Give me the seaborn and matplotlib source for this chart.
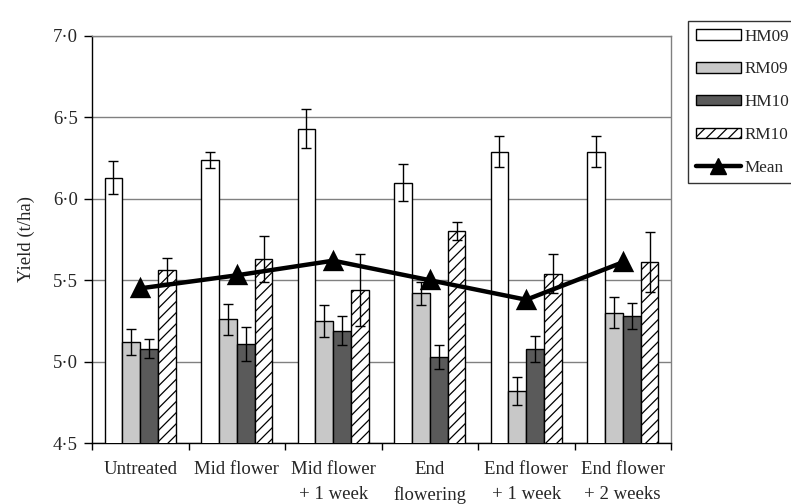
import matplotlib
matplotlib.use("Agg")
import matplotlib.pyplot as plt
import seaborn as sns
import pandas as pd
import numpy as np
from matplotlib.patches import Patch
from matplotlib.lines import Line2D
from matplotlib.ticker import FuncFormatter, FixedLocator

categories = ["Untreated", "Mid flower", "Mid flower\n+ 1 week", "End\nflowering",
              "End flower\n+ 1 week", "End flower\n+ 2 weeks"]
series = ["HM09", "RM09", "HM10", "RM10"]
hm09 = [6.13, 6.24, 6.43, 6.10, 6.29, 6.29]
rm09 = [5.12, 5.26, 5.25, 5.42, 4.82, 5.30]
hm10 = [5.08, 5.11, 5.19, 5.03, 5.08, 5.28]
rm10 = [5.56, 5.63, 5.44, 5.80, 5.54, 5.61]
hm09_err = [0.10, 0.05, 0.12, 0.115, 0.095, 0.095]
rm09_err = [0.08, 0.095, 0.10, 0.07, 0.085, 0.095]
hm10_err = [0.06, 0.105, 0.09, 0.075, 0.08, 0.08]
rm10_err = [0.075, 0.14, 0.22, 0.055, 0.12, 0.185]
mean = [5.45, 5.53, 5.62, 5.50, 5.38, 5.61]

vals = {"HM09": hm09, "RM09": rm09, "HM10": hm10, "RM10": rm10}
errs = {"HM09": hm09_err, "RM09": rm09_err, "HM10": hm10_err, "RM10": rm10_err}
rows = []
for s in series:
    for c, v, e in zip(categories, vals[s], errs[s]):
        rows.append({"cat": c, "series": s, "value": v, "err": e})
df = pd.DataFrame(rows)
mdf = pd.DataFrame({"cat": categories, "mean": mean})

colors = {"HM09": "#ffffff", "RM09": "#c8c8c8", "HM10": "#5a5a5a", "RM10": "#ffffff"}

sns.set_style("white")
plt.rcParams["font.family"] = ["Liberation Serif", "DejaVu Serif"]
plt.rcParams["hatch.linewidth"] = 0.9

FS = 13.5

fig = plt.figure(figsize=(7.91, 5.04), dpi=100)
ax = fig.add_axes([92/791, 1-443/504, (671-92)/791, (443-36)/504])

sns.barplot(data=df, x="cat", y="value", hue="series", order=categories,
            hue_order=series, palette=colors, edgecolor="black", linewidth=1.0,
            width=0.74, errorbar=None, legend=False, ax=ax, zorder=3)

# hatch + error bars
bars = [p for p in ax.patches]
n = len(categories)
for si, s in enumerate(series):
    for ci in range(n):
        p = bars[si * n + ci]
        if s == "RM10":
            p.set_hatch("///")
        xc = p.get_x() + p.get_width() / 2
        y = p.get_height()
        ax.errorbar(xc, y, yerr=errs[s][ci], color="black", lw=1.0,
                    capsize=3.6, capthick=1.0, zorder=4)

sns.pointplot(data=mdf, x="cat", y="mean", order=categories, color="black",
              markers="^", linestyles="-", ax=ax, zorder=5,
              markersize=12, linewidth=3.2)

ax.set_ylim(4.5, 7.0)
ax.set_xlim(-0.5, n - 0.5)
ax.set_yticks([4.5, 5.0, 5.5, 6.0, 6.5, 7.0])
ax.yaxis.set_major_formatter(FuncFormatter(lambda v, p: f"{v:.1f}".replace(".", "\u00b7")))
ax.yaxis.grid(True, color="#808080", lw=1.0, zorder=0)
ax.set_axisbelow(True)

ax.xaxis.set_major_locator(FixedLocator(np.arange(-0.5, n, 1.0)))
ax.xaxis.set_minor_locator(FixedLocator(np.arange(n)))
ax.set_xticklabels([], minor=False)
ax.set_xticklabels(categories, minor=True, fontsize=FS, linespacing=1.6)
ax.tick_params(axis="x", which="major", direction="out", length=5, width=1, color="black", bottom=True)
ax.tick_params(axis="x", which="minor", length=0, pad=13)
ax.tick_params(axis="y", direction="out", length=6, width=1, color="black", left=True,
               labelsize=FS, pad=4)
for t in ax.get_xticklabels(minor=True):
    t.set_verticalalignment("top")
    t.set_multialignment("center")

ax.set_xlabel("")
ax.set_ylabel("Yield (t/ha)", fontsize=FS, labelpad=13)

for side in ["left", "bottom"]:
    ax.spines[side].set_color("black")
    ax.spines[side].set_linewidth(1.0)
for side in ["top", "right"]:
    ax.spines[side].set_visible(True)
    ax.spines[side].set_color("#808080")
    ax.spines[side].set_linewidth(1.0)

handles = [Patch(facecolor=colors[s], edgecolor="black", lw=1.0, hatch="///" if s == "RM10" else None)
           for s in series]
handles.append(Line2D([0], [0], color="black", lw=3.2, marker="^", markersize=12))
labels = series + ["Mean"]
leg = fig.legend(handles, labels, loc="upper left", bbox_to_anchor=(688/791, 1-21/504),
                 frameon=True, fancybox=False, edgecolor="black", fontsize=12.3,
                 handlelength=2.65, handleheight=0.58, labelspacing=0.98, borderpad=0.45,
                 handletextpad=0.2, borderaxespad=0)
leg.get_frame().set_linewidth(1.0)

fig.savefig("out.png", dpi=100)
